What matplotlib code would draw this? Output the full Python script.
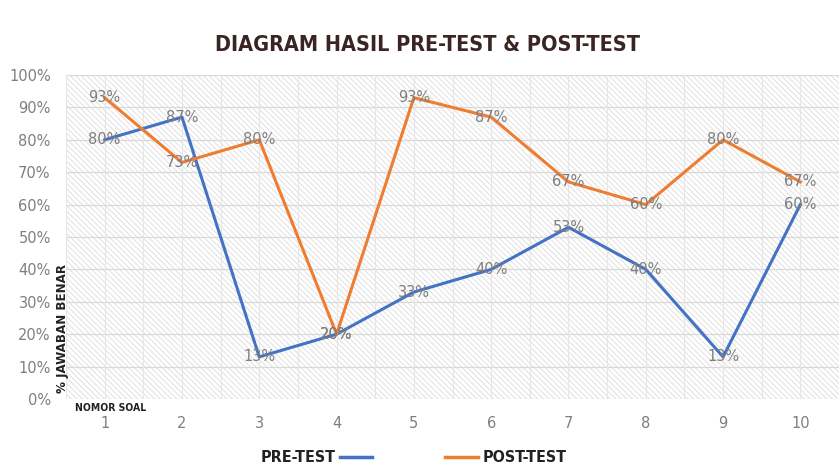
import matplotlib
matplotlib.use("Agg")
import matplotlib.pyplot as plt
from matplotlib.patches import Rectangle
from matplotlib.lines import Line2D

soal = [1, 2, 3, 4, 5, 6, 7, 8, 9, 10]
pre_test = [80, 87, 13, 20, 33, 40, 53, 40, 13, 60]
post_test = [93, 73, 80, 20, 93, 87, 67, 60, 80, 67]
pre_lbl = ["80%", "87%", "13%", "20%", "33%", "40%", "53%", "40%", "13%", "60%"]
post_lbl = ["93%", "73%", "80%", "20%", "93%", "87%", "67%", "60%", "80%", "67%"]

blue = '#4472c4'
orange = '#ed7d31'
gray = '#7f7f7f'
dark = '#3a2424'

plt.rcParams['hatch.linewidth'] = 0.7

fig = plt.figure(figsize=(8.4, 4.69), dpi=100)
ax = fig.add_axes([0.0786, 0.1493, 0.9202, 0.6908])

ax.set_xlim(0.5, 10.5)
ax.set_ylim(0, 100)

# hatched background
bg = Rectangle((0, 0), 1, 1, transform=ax.transAxes, facecolor='white',
               edgecolor='#e0e0e0', hatch='\\\\\\\\\\\\', lw=0, zorder=0)
ax.add_patch(bg)

for y in range(0, 101, 10):
    ax.axhline(y, color='#d9d9d9', lw=0.9, zorder=1)
for k in range(0, 21):
    ax.axvline(0.5 + k * 0.5, color='#e6e6e6', lw=0.8, zorder=1)

ax.plot(soal, pre_test, color=blue, lw=2.2, zorder=3)
ax.plot(soal, post_test, color=orange, lw=2.2, zorder=3)

for i in range(len(soal)):
    ax.text(soal[i], pre_test[i], pre_lbl[i], ha='center', va='center',
            fontsize=10.5, color=gray, zorder=4)
    ax.text(soal[i], post_test[i], post_lbl[i], ha='center', va='center',
            fontsize=10.5, color=gray, zorder=4)

ax.set_xticks(soal)
ax.set_yticks(range(0, 101, 10))
ax.set_yticklabels(['%d%%' % v for v in range(0, 101, 10)])
ax.tick_params(length=0, colors=gray, labelsize=10.5)
ax.tick_params(axis='x', pad=12)
ax.tick_params(axis='y', pad=11)
for s in ax.spines.values():
    s.set_visible(False)

fig.text(0.509, 0.905, 'DIAGRAM HASIL PRE-TEST & POST-TEST', ha='center', va='center',
         fontsize=15.5, fontweight='bold', fontstretch='condensed', color=dark)
fig.text(0.074, 0.30, '% JAWABAN BENAR', rotation=90, ha='center', va='center',
         fontsize=9.5, fontweight='bold', fontstretch='condensed', color='#222222')
fig.text(0.089, 0.13, 'NOMOR SOAL', ha='left', va='center',
         fontsize=7.5, fontweight='bold', fontstretch='condensed', color='#222222')

# legend
fig.text(0.400, 0.025, 'PRE-TEST', ha='right', va='center', fontsize=11.5,
         fontweight='bold', fontstretch='condensed', color='#222222')
fig.add_artist(Line2D([0.405, 0.443], [0.025, 0.025], color=blue, lw=2.5,
                      transform=fig.transFigure))
fig.add_artist(Line2D([0.530, 0.569], [0.025, 0.025], color=orange, lw=2.5,
                      transform=fig.transFigure))
fig.text(0.574, 0.025, 'POST-TEST', ha='left', va='center', fontsize=11.5,
         fontweight='bold', fontstretch='condensed', color='#222222')

fig.savefig('out.png', dpi=100)
